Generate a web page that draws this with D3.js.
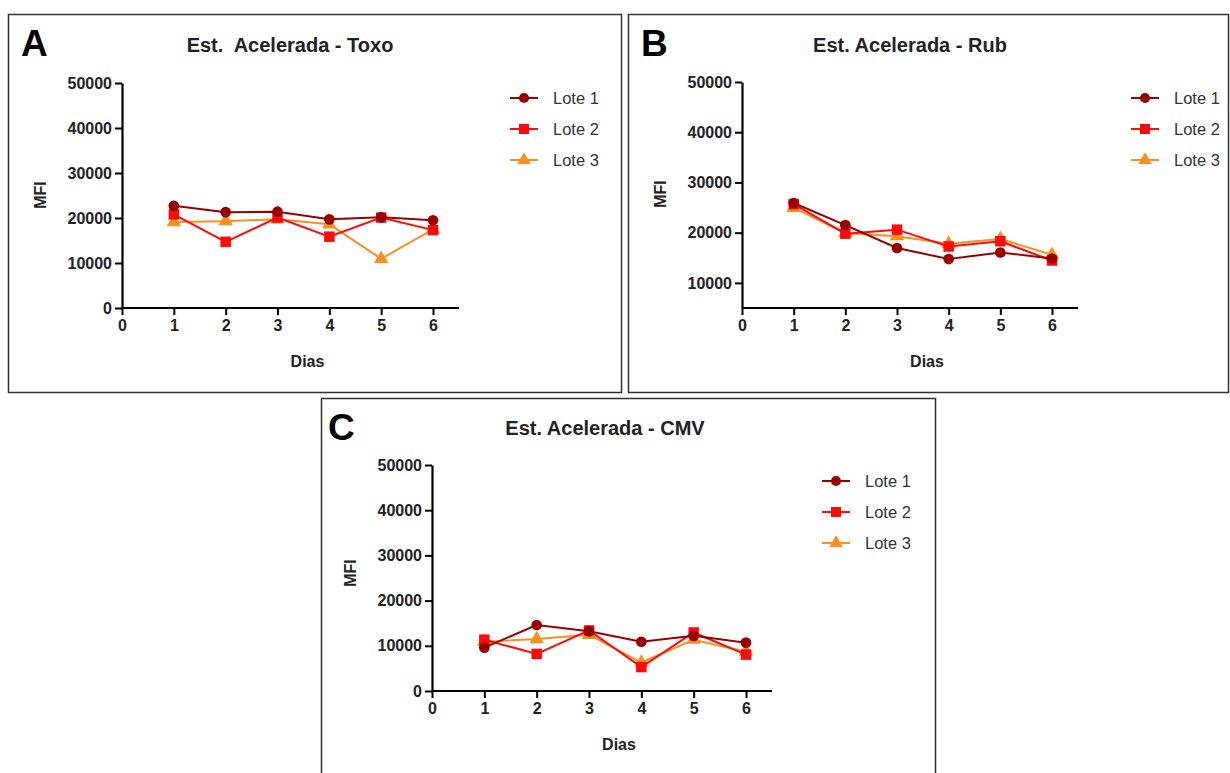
<!DOCTYPE html>
<html>
<head>
<meta charset="utf-8">
<script src="https://cdn.jsdelivr.net/npm/d3@7"></script>
<style>
  body { margin: 0; background: #fff; }
  text { font-family: "Liberation Sans", Arial, sans-serif; }
</style>
</head>
<body>
<div id="chart"></div>
<script>
// days on the x axis
const dias = [1, 2, 3, 4, 5, 6];
const lotes = ["Lote 1", "Lote 2", "Lote 3"];
const xTicks = [0, 1, 2, 3, 4, 5, 6];

// MFI values
const toxoL1 = [22700, 21300, 21400, 19700, 20150, 19500];
const toxoL2 = [20800, 14700, 20100, 15850, 20100, 17300];
const toxoL3 = [19100, 19300, 19700, 18600, 10950, 17450];

const rubL1 = [25900, 21500, 16950, 14750, 16050, 14850];
const rubL2 = [25700, 19800, 20600, 17250, 18300, 14450];
const rubL3 = [24950, 19950, 19300, 17800, 18750, 15600];

const cmvL1 = [9600, 14600, 13200, 10900, 12200, 10700];
const cmvL2 = [11350, 8200, 13400, 5300, 12950, 8050];
const cmvL3 = [10900, 11500, 12450, 6300, 11350, 8700];

const yTicksA = [0, 10000, 20000, 30000, 40000, 50000];
const yTicksB = [10000, 20000, 30000, 40000, 50000];

const colors = ["#990000", "#ff0a0a", "#f7901e"];
const symbols = [d3.symbolCircle, d3.symbolSquare, d3.symbolTriangle];

const svg = d3.select("#chart").append("svg")
  .attr("width", 1230).attr("height", 773);

function panel(cfg) {
  // frame
  svg.append("rect")
    .attr("x", cfg.frame[0]).attr("y", cfg.frame[1])
    .attr("width", cfg.frame[2]).attr("height", cfg.frame[3])
    .attr("fill", "none").attr("stroke", "#333").attr("stroke-width", 1.5);

  svg.append("text")
    .attr("x", cfg.letter[0]).attr("y", cfg.letter[1])
    .attr("font-size", 37).attr("font-weight", "bold").attr("fill", "#000")
    .text(cfg.label);

  const g = svg.append("g").attr("transform", "translate(" + cfg.ox + "," + cfg.oy + ")");

  const x = d3.scaleLinear().domain([0, 6]).range([0, cfg.w]);
  const y = d3.scaleLinear().domain(cfg.yDomain).range([cfg.h, 0]);

  g.append("text")
    .attr("x", cfg.titleX).attr("y", cfg.titleY)
    .attr("text-anchor", "middle")
    .style("white-space", "pre")
    .attr("font-size", 20).attr("font-weight", "bold").attr("fill", "#222")
    .text(cfg.title);

  const xAxis = g.append("g").attr("transform", "translate(0," + cfg.h + ")")
    .call(d3.axisBottom(x).tickValues(xTicks).tickFormat(d3.format("d"))
      .tickSize(7).tickPadding(5).tickSizeOuter(0));
  xAxis.select(".domain").attr("d", "M0,0H" + (cfg.w + 26)).attr("stroke-width", 2.2);
  xAxis.selectAll(".tick line").attr("stroke-width", 2);
  xAxis.selectAll("text").attr("font-size", 16).attr("font-weight", "bold").attr("fill", "#222");

  const yAxis = g.append("g")
    .call(d3.axisLeft(y).tickValues(cfg.yTicks).tickFormat(d3.format("d"))
      .tickSize(7).tickPadding(3).tickSizeOuter(0));
  yAxis.select(".domain").attr("stroke-width", 2.2);
  yAxis.selectAll(".tick line").attr("stroke-width", 2);
  yAxis.selectAll("text").attr("font-size", 16).attr("font-weight", "bold").attr("fill", "#222");

  g.append("text")
    .attr("x", cfg.w / 2 + 30).attr("y", cfg.h + 59)
    .attr("text-anchor", "middle").attr("font-size", 16).attr("font-weight", "bold").attr("fill", "#222")
    .text("Dias");

  g.append("text")
    .attr("transform", "rotate(-90)")
    .attr("x", -(cfg.mfiY)).attr("y", -76)
    .attr("text-anchor", "middle").attr("font-size", 16).attr("font-weight", "bold").attr("fill", "#222")
    .text("MFI");

  const line = d3.line().x((d, i) => x(dias[i])).y(d => y(d));

  // draw Lote 3 first so Lote 1 sits on top
  for (let k = 2; k >= 0; k--) {
    const vals = cfg.series[k];
    g.append("path").datum(vals)
      .attr("d", line).attr("fill", "none")
      .attr("stroke", colors[k]).attr("stroke-width", 2);
    g.selectAll(".pt" + k).data(vals).enter().append("path")
      .attr("class", "pt" + k)
      .attr("transform", (d, i) => "translate(" + x(dias[i]) + "," + y(d) + ")")
      .attr("d", d3.symbol().type(symbols[k]).size(k === 1 ? 110 : 90))
      .attr("fill", colors[k]);
  }

  // legend
  const lg = svg.append("g").attr("transform", "translate(" + cfg.legend[0] + "," + cfg.legend[1] + ")");
  lotes.forEach((name, k) => {
    const row = lg.append("g").attr("transform", "translate(0," + (k * 31) + ")");
    row.append("line").attr("x1", -14).attr("x2", 14).attr("stroke", colors[k]).attr("stroke-width", 2);
    row.append("path").attr("d", d3.symbol().type(symbols[k]).size(k === 1 ? 100 : 80)).attr("fill", colors[k]);
    row.append("text").attr("x", 29).attr("y", 6)
      .attr("font-size", 16.5).attr("fill", "#333").text(name);
  });
}

panel({
  label: "A", letter: [21, 56], frame: [8.5, 14.5, 613, 378],
  ox: 122, oy: 83, w: 311, h: 225, yDomain: [0, 50000], yTicks: yTicksA,
  title: "Est.  Acelerada - Toxo", titleX: 168, titleY: -31, mfiY: 112,
  series: [toxoL1, toxoL2, toxoL3], legend: [524, 98]
});

panel({
  label: "B", letter: [641, 56], frame: [628.5, 14.5, 600, 378],
  ox: 742, oy: 82, w: 310, h: 226, yDomain: [5000, 50000], yTicks: yTicksB,
  title: "Est. Acelerada - Rub", titleX: 168, titleY: -30, mfiY: 112,
  series: [rubL1, rubL2, rubL3], legend: [1145, 98]
});

panel({
  label: "C", letter: [328, 440], frame: [321.5, 398.5, 614, 380],
  ox: 432, oy: 465, w: 314, h: 226, yDomain: [0, 50000], yTicks: yTicksA,
  title: "Est. Acelerada - CMV", titleX: 173, titleY: -30, mfiY: 108,
  series: [cmvL1, cmvL2, cmvL3], legend: [836, 481]
});
</script>
</body>
</html>
